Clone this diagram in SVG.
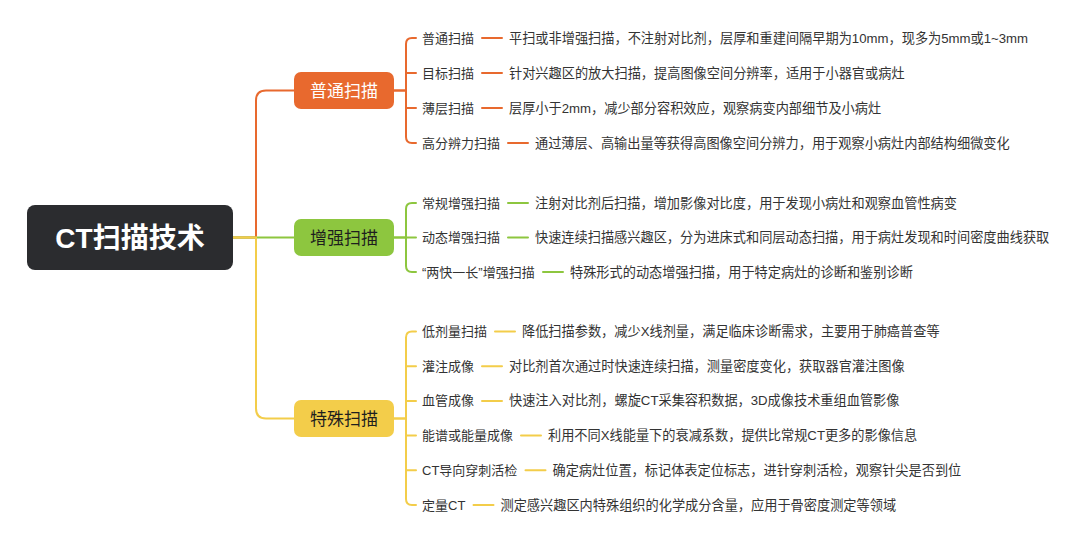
<svg xmlns="http://www.w3.org/2000/svg" width="1080" height="544" viewBox="0 0 1080 544">
<style>
text{font-family:"Liberation Sans","Noto Sans CJK SC",sans-serif;dominant-baseline:central}
.root{font-size:28px;font-weight:bold;fill:#fff}
.l1{font-size:17px}
.lb{font-size:13px;fill:#333}
.ds{font-size:13.2px;fill:#333}
.c{fill:none;stroke-width:2;stroke-linecap:round}
.o{stroke:#E8692E}.g{stroke:#8DC63F}.y{stroke:#F3CD4A}
</style>
<rect width="1080" height="544" fill="#fff"/>
<g id="connectors">
<path class="c o" d="M233,237.5 H256 V100.5 Q256,90.5 266,90.5 H294"/>
<path class="c g" d="M233,237.5 H294"/>
<path class="c y" d="M233,237.5 H256 V408.5 Q256,418.5 266,418.5 H294"/>
<path class="c o" d="M394,90.5 H406 V44 Q406,38 412,38 H416"/>
<path class="c o" d="M406,73 H416"/>
<path class="c o" d="M406,108 H416"/>
<path class="c o" d="M394,90.5 H406 V137 Q406,143 412,143 H416"/>
<path class="c g" d="M394,237.5 H406 V209 Q406,203 412,203 H416"/>
<path class="c g" d="M406,237.5 H416"/>
<path class="c g" d="M394,237.5 H406 V266 Q406,272 412,272 H416"/>
<path class="c y" d="M394,418.5 H406 V337.5 Q406,331.5 412,331.5 H416"/>
<path class="c y" d="M406,366.2 H416"/>
<path class="c y" d="M406,400.9 H416"/>
<path class="c y" d="M406,435.6 H416"/>
<path class="c y" d="M406,470.3 H416"/>
<path class="c y" d="M394,418.5 H406 V499 Q406,505 412,505 H416"/>
<path class="c o" d="M482,38 H502 M482,73 H502 M482,108 H502 M508,143 H528"/>
<path class="c g" d="M508,203 H528 M508,237.5 H528 M543,272 H563"/>
<path class="c y" d="M495,331.5 H515 M482,366.2 H502 M482,400.9 H502 M521,435.6 H541 M525.5,470.3 H545.5 M473.5,505 H493.5"/>
</g>
<g id="root">
<rect x="27" y="205" width="206" height="65" rx="8" fill="#2B2C2F"/>
<text class="root" x="130" y="238" text-anchor="middle">CT扫描技术</text>
</g>
<g id="n-putong">
<rect x="294" y="72" width="100" height="37" rx="7" fill="#E8692E"/>
<text class="l1" x="344" y="91" text-anchor="middle" fill="#fff">普通扫描</text>
</g>
<g id="n-zengqiang">
<rect x="294" y="219" width="100" height="37" rx="7" fill="#8DC63F"/>
<text class="l1" x="344" y="238" text-anchor="middle" fill="#1e1e1e">增强扫描</text>
</g>
<g id="n-teshu">
<rect x="294" y="400" width="100" height="37" rx="7" fill="#F3CD4A"/>
<text class="l1" x="344" y="419" text-anchor="middle" fill="#1e1e1e">特殊扫描</text>
</g>
<g id="c1"><text class="lb" x="422" y="38">普通扫描</text><text class="ds" x="509" y="38">平扫或非增强扫描，不注射对比剂，层厚和重建间隔早期为10mm，现多为5mm或1~3mm</text></g>
<g id="c2"><text class="lb" x="422" y="73">目标扫描</text><text class="ds" x="509" y="73">针对兴趣区的放大扫描，提高图像空间分辨率，适用于小器官或病灶</text></g>
<g id="c3"><text class="lb" x="422" y="108">薄层扫描</text><text class="ds" x="509" y="108">层厚小于2mm，减少部分容积效应，观察病变内部细节及小病灶</text></g>
<g id="c4"><text class="lb" x="422" y="143">高分辨力扫描</text><text class="ds" x="535" y="143">通过薄层、高输出量等获得高图像空间分辨力，用于观察小病灶内部结构细微变化</text></g>
<g id="c5"><text class="lb" x="422" y="203">常规增强扫描</text><text class="ds" x="535" y="203">注射对比剂后扫描，增加影像对比度，用于发现小病灶和观察血管性病变</text></g>
<g id="c6"><text class="lb" x="422" y="237.5">动态增强扫描</text><text class="ds" x="535" y="237.5">快速连续扫描感兴趣区，分为进床式和同层动态扫描，用于病灶发现和时间密度曲线获取</text></g>
<g id="c7"><text class="lb" x="422" y="272">“两快一长”增强扫描</text><text class="ds" x="570" y="272">特殊形式的动态增强扫描，用于特定病灶的诊断和鉴别诊断</text></g>
<g id="c8"><text class="lb" x="422" y="331.5">低剂量扫描</text><text class="ds" x="522" y="331.5">降低扫描参数，减少X线剂量，满足临床诊断需求，主要用于肺癌普查等</text></g>
<g id="c9"><text class="lb" x="422" y="366.2">灌注成像</text><text class="ds" x="509" y="366.2">对比剂首次通过时快速连续扫描，测量密度变化，获取器官灌注图像</text></g>
<g id="c10"><text class="lb" x="422" y="400.9">血管成像</text><text class="ds" x="509" y="400.9">快速注入对比剂，螺旋CT采集容积数据，3D成像技术重组血管影像</text></g>
<g id="c11"><text class="lb" x="422" y="435.6">能谱或能量成像</text><text class="ds" x="548" y="435.6">利用不同X线能量下的衰减系数，提供比常规CT更多的影像信息</text></g>
<g id="c12"><text class="lb" x="422" y="470.3">CT导向穿刺活检</text><text class="ds" x="552.5" y="470.3">确定病灶位置，标记体表定位标志，进针穿刺活检，观察针尖是否到位</text></g>
<g id="c13"><text class="lb" x="422" y="505">定量CT</text><text class="ds" x="500.5" y="505">测定感兴趣区内特殊组织的化学成分含量，应用于骨密度测定等领域</text></g>
</svg>
